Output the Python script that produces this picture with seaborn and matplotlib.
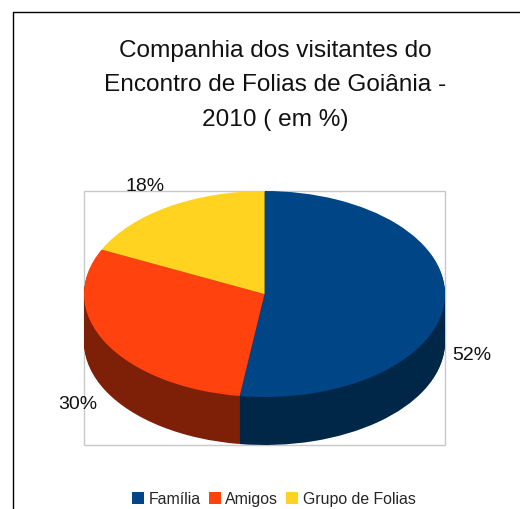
import matplotlib
matplotlib.use("Agg")
import matplotlib.pyplot as plt
import seaborn as sns
from matplotlib.lines import Line2D
from matplotlib.patches import Rectangle

categories = ["Família", "Amigos", "Grupo de Folias"]
values = [52.2, 29.9, 17.9]
pct_labels = ["52%", "30%", "18%"]
title_lines = ["Companhia dos visitantes do", "Encontro de Folias de Goiânia -", "2010 ( em %)"]

top_colors = ["#004586", "#ff420e", "#ffd320"]
side_colors = ["#002648", "#7e2007", "#7e6a10"]

W, H = 520, 510

sns.set_theme(style="white")
plt.rcParams["font.family"] = ["Liberation Sans", "DejaVu Sans"]

fig = plt.figure(figsize=(W / 100, H / 100), dpi=100)
ax = fig.add_axes([0, 0, 1, 1])
ax.set_xlim(0, W)
ax.set_ylim(H, 0)
ax.axis("off")

# outer page border and plot frame
ax.plot([13, 13, 520], [510, 13, 13], color="black", lw=1)
ax.add_patch(Rectangle((84, 192), 361, 254, fill=False, ec="#c8c8c8", lw=1))

# flatten the pie by drawing it in a squashed inset axes
cx, cy, rx, ry, depth = 264.5, 295, 180.5, 103, 48
pie_ax = fig.add_axes([(cx - rx) / W, 1 - (cy + ry + depth) / H,
                       2 * rx / W, (2 * ry + depth) / H])

flat = {"linewidth": 0, "edgecolor": "none"}
for step in range(depth, 0, -1):
    pie_ax.pie(values, colors=side_colors, startangle=90, counterclock=False,
               center=(0, -step / ry), radius=1, frame=True, wedgeprops=flat)
pie_ax.pie(values, colors=top_colors, startangle=90, counterclock=False,
           center=(0, 0), radius=1, frame=True, wedgeprops=flat)
pie_ax.set_aspect("auto")
pie_ax.set_xlim(-1, 1)
pie_ax.set_ylim(-1 - depth / ry, 1)
pie_ax.axis("off")

for y, line in zip([50.5, 85, 120], title_lines):
    ax.text(275.5, y, line, ha="center", va="center", fontsize=17.6, color="#111111")

ax.text(472, 356, pct_labels[0], ha="center", va="center", fontsize=14, color="#111111")
ax.text(78, 405, pct_labels[1], ha="center", va="center", fontsize=14, color="#111111")
ax.text(145, 187, pct_labels[2], ha="center", va="center", fontsize=14, color="#111111")

handles = [Line2D([], [], marker="s", ls="", ms=8, color=c, mew=0) for c in top_colors]
ax.legend(handles, categories, loc="center", bbox_to_anchor=(273 / W, 1 - 500 / H),
          bbox_transform=fig.transFigure, ncol=3, frameon=False, fontsize=11.4,
          handlelength=0.95, handletextpad=0.2, columnspacing=0.4, borderpad=0)

fig.savefig("out.png", dpi=100)
